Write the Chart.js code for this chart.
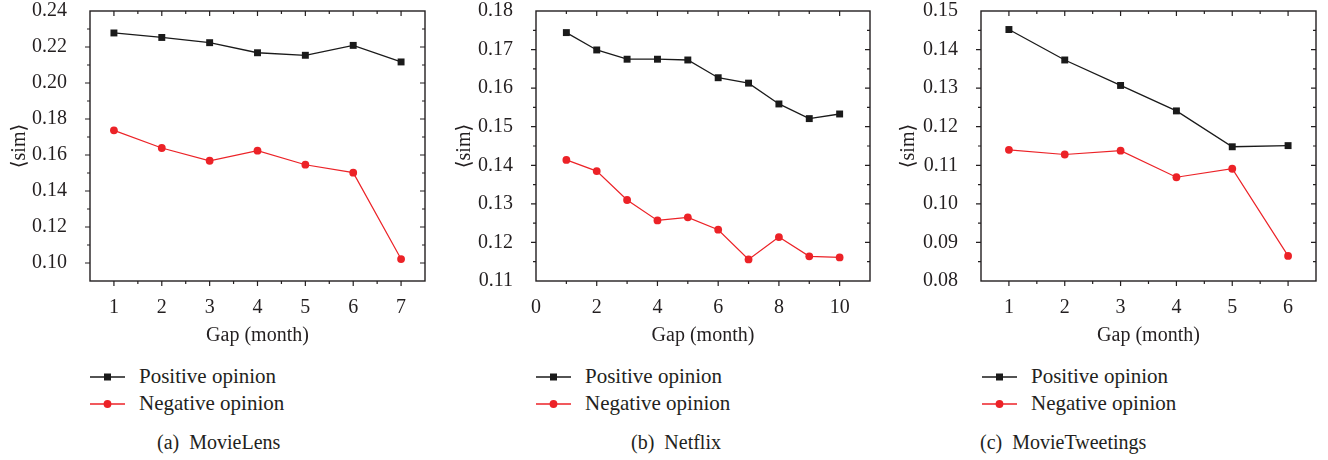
<!DOCTYPE html>
<html>
<head>
<meta charset="utf-8">
<script src="https://cdn.jsdelivr.net/npm/chart.js@4"></script>
<style>
  html, body { margin: 0; padding: 0; background: #fff; }
  body { width: 1328px; height: 460px; position: relative; overflow: hidden;
         font-family: 'Liberation Serif', 'DejaVu Serif', serif; color: #231f20; }
  .cv { position: absolute; top: 0; height: 350px; }
  .leg { position: absolute; font-size: 21px; line-height: 21px; white-space: pre; }
  .leg svg { position: absolute; left: 0; top: 0; }
  .leg span { position: absolute; top: 0; }
  .cap { position: absolute; font-size: 20px; line-height: 20px; white-space: pre; }
</style>
</head>
<body>
<div class="cv" style="left:0px;width:440px;"><canvas id="c0"></canvas></div>
<div class="cv" style="left:445px;width:440px;"><canvas id="c1"></canvas></div>
<div class="cv" style="left:889px;width:439px;"><canvas id="c2"></canvas></div>
<div id="legends"></div>
<script>
// ---- data ----
const gapMovieLens = [1, 2, 3, 4, 5, 6, 7];
const posMovieLens = [0.2278, 0.2253, 0.2224, 0.2168, 0.2154, 0.2209, 0.2117];
const negMovieLens = [0.1737, 0.1639, 0.1568, 0.1624, 0.1546, 0.1502, 0.1022];

const gapNetflix = [1, 2, 3, 4, 5, 6, 7, 8, 9, 10];
const posNetflix = [0.1744, 0.1699, 0.1675, 0.1675, 0.1673, 0.1627, 0.1613, 0.1559, 0.1521, 0.1533];
const negNetflix = [0.1414, 0.1385, 0.1310, 0.1257, 0.1265, 0.1233, 0.1156, 0.1214, 0.1164, 0.1161];

const gapTweetings = [1, 2, 3, 4, 5, 6];
const posTweetings = [0.1452, 0.1373, 0.1307, 0.1241, 0.1148, 0.1151];
const negTweetings = [0.1140, 0.1128, 0.1138, 0.1069, 0.1091, 0.0865];

const seriesNames = ['Positive opinion', 'Negative opinion'];
const captions = ['(a)  MovieLens', '(b)  Netflix', '(c)  MovieTweetings'];
const xTitle = 'Gap (month)';
const yTitle = '\u27E8sim\u27E9';

// ---- styling ----
const FONT = "'Liberation Serif', 'DejaVu Serif', serif";
const TXT = '#231f20';
const BLACK = '#1a1a1a';
const RED = '#ec2227';

const frameTicks = {
  id: 'frameTicks',
  afterDatasetsDraw(chart) {
    const ctx = chart.ctx, a = chart.chartArea;
    ctx.save();
    ctx.strokeStyle = '#231f20';
    ctx.lineWidth = 1.4;
    ctx.strokeRect(a.left, a.top, a.right - a.left, a.bottom - a.top);
    ctx.lineWidth = 1.2;
    const xs = chart.scales.x, ys = chart.scales.y;
    ctx.beginPath();
    xs.ticks.forEach(t => {
      const px = xs.getPixelForValue(t.value);
      if (px < a.left + 1 || px > a.right - 1) return;
      const L = t.label !== '' ? 5 : 3;
      ctx.moveTo(px, a.bottom); ctx.lineTo(px, a.bottom + L);
      ctx.moveTo(px, a.top); ctx.lineTo(px, a.top + L);
    });
    ys.ticks.forEach(t => {
      const py = ys.getPixelForValue(t.value);
      if (py < a.top + 1 || py > a.bottom - 1) return;
      const L = t.label !== '' ? 5 : 3;
      ctx.moveTo(a.left, py); ctx.lineTo(a.left - L, py);
      ctx.moveTo(a.right, py); ctx.lineTo(a.right - L, py);
    });
    ctx.stroke();
    ctx.restore();
  }
};

function makeChart(id, gaps, pos, neg, xcfg, ycfg, yWidth, padRight) {
  const toPts = (vals) => gaps.map((g, i) => ({ x: g, y: vals[i] }));
  return new Chart(document.getElementById(id), {
    type: 'line',
    data: {
      datasets: [
        { label: seriesNames[0], data: toPts(pos), borderColor: BLACK, backgroundColor: BLACK,
          borderWidth: 1.3, pointStyle: 'rect', pointRadius: 4.9, pointBorderWidth: 0, tension: 0 },
        { label: seriesNames[1], data: toPts(neg), borderColor: RED, backgroundColor: RED,
          borderWidth: 1.2, pointStyle: 'circle', pointRadius: 3.9, pointBorderWidth: 0, tension: 0 }
      ]
    },
    options: {
      responsive: true, maintainAspectRatio: false, animation: false,
      layout: { padding: { left: 0, right: padRight, top: 11, bottom: 0 } },
      plugins: { legend: { display: false }, tooltip: { enabled: false } },
      scales: {
        x: {
          type: 'linear', min: xcfg.min, max: xcfg.max,
          grid: { display: false }, border: { display: false },
          ticks: { stepSize: xcfg.step, autoSkip: false, maxRotation: 0, padding: 7,
                   color: TXT, font: { family: FONT, size: 20 },
                   callback: v => xcfg.isMajor(v) ? String(Math.round(v)) : '' },
          title: { display: true, text: xTitle, color: TXT, font: { family: FONT, size: 20 },
                   padding: { top: 0, bottom: 2 } },
          afterFit: s => { s.height = 69; s.paddingLeft = 0; s.paddingRight = 0; }
        },
        y: {
          min: ycfg.min, max: ycfg.max,
          grid: { display: false }, border: { display: false },
          ticks: { stepSize: ycfg.step, autoSkip: false, padding: 15,
                   color: TXT, font: { family: FONT, size: 20 },
                   callback: v => ycfg.isMajor(v) ? v.toFixed(2) : '' },
          title: { display: true, text: yTitle, color: TXT, font: { family: FONT, size: 20 },
                   padding: { top: 8, bottom: 0 } },
          afterFit: s => { s.width = yWidth; s.paddingTop = 0; s.paddingBottom = 0; }
        }
      }
    },
    plugins: [frameTicks]
  });
}

const halfMajor = v => Math.abs(v - Math.round(v)) < 1e-6;
makeChart('c0', gapMovieLens, posMovieLens, negMovieLens,
  { min: 0.5, max: 7.5, step: 0.5, isMajor: halfMajor },
  { min: 0.09, max: 0.24, step: 0.01, isMajor: v => Math.round(v * 100) % 2 === 0 },
  90, 15);
makeChart('c1', gapNetflix, posNetflix, negNetflix,
  { min: 0, max: 11, step: 1, isMajor: v => Math.round(v) % 2 === 0 },
  { min: 0.11, max: 0.18, step: 0.005, isMajor: v => Math.abs(v * 100 - Math.round(v * 100)) < 1e-6 },
  91, 15);
makeChart('c2', gapTweetings, posTweetings, negTweetings,
  { min: 0.5, max: 6.5, step: 0.5, isMajor: halfMajor },
  { min: 0.08, max: 0.15, step: 0.005, isMajor: v => Math.abs(v * 100 - Math.round(v * 100)) < 1e-6 },
  92, 12);

// ---- HTML legends & captions ----
const legendLefts = [90, 536, 982];
const captionLefts = [157, 631, 980];
const box = document.getElementById('legends');
function legendItem(left, top, name, color, shape) {
  const d = document.createElement('div');
  d.className = 'leg';
  d.style.left = left + 'px'; d.style.top = top + 'px';
  d.style.width = '260px'; d.style.height = '22px';
  const mk = shape === 'rect'
    ? `<rect x="14" y="7.5" width="7" height="7" fill="${color}"/>`
    : `<circle cx="17.5" cy="11" r="3.9" fill="${color}"/>`;
  d.innerHTML = `<svg width="36" height="22"><line x1="0" y1="11" x2="35" y2="11" stroke="${color}" stroke-width="1.3"/>${mk}</svg><span style="left:49px">${name}</span>`;
  box.appendChild(d);
}
legendLefts.forEach((l, i) => {
  legendItem(l, 366, seriesNames[0], BLACK, 'rect');
  legendItem(l, 393, seriesNames[1], RED, 'circle');
  const c = document.createElement('div');
  c.className = 'cap';
  c.style.left = captionLefts[i] + 'px'; c.style.top = '432px';
  c.textContent = captions[i];
  box.appendChild(c);
});
</script>
</body>
</html>
